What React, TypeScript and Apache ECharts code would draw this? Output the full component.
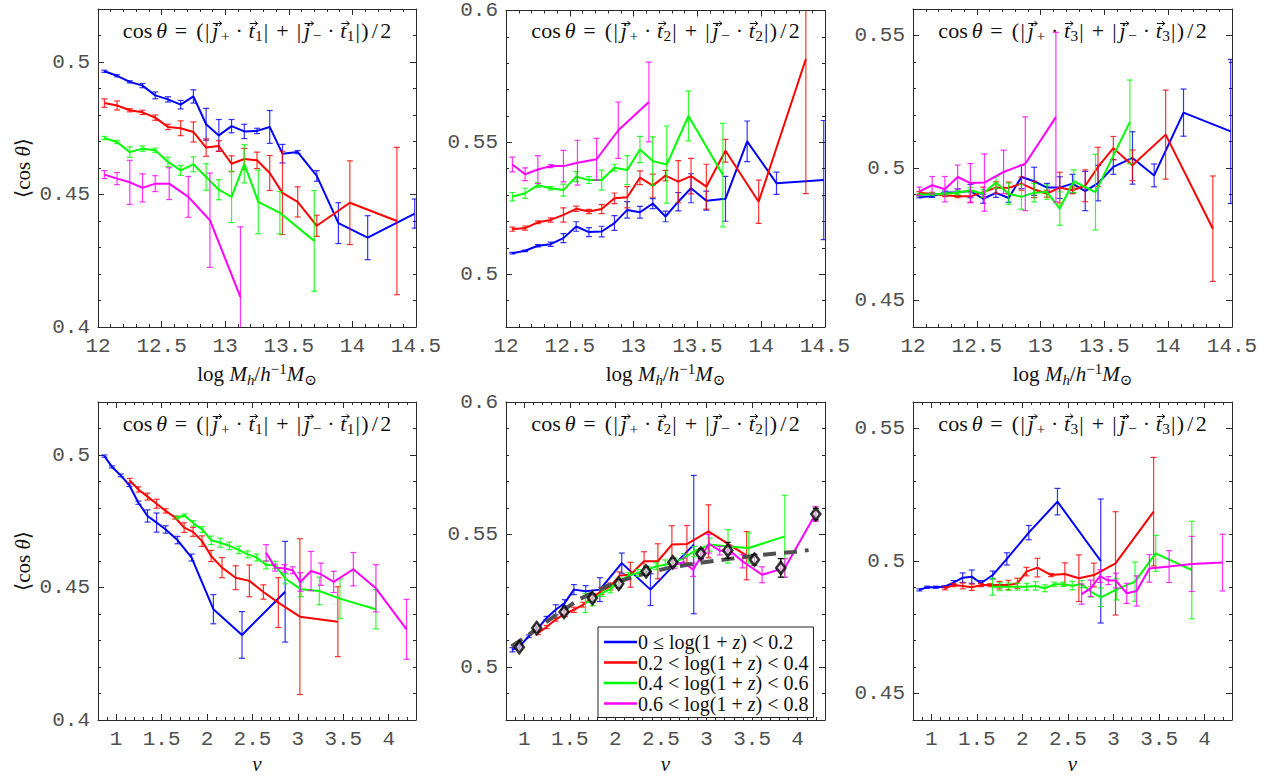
import { useEffect, useRef } from 'react';
import * as echarts from 'echarts';

// ---------- shared styling ----------
const SERIES_COLORS = ['#0000ff', '#ff0000', '#00ff00', '#ff00ff'];
const SERIF = "'Liberation Serif', 'DejaVu Serif', serif";
const MONO = "'Liberation Mono', 'DejaVu Sans Mono', monospace";
const AXIS_COLOR = '#2a2a2a';
const LABEL_COLOR = '#505050';
const INK = '#111111';

// ---------- redshift slices (legend) ----------
const Z_EDGES = [0, 0.2, 0.4, 0.6, 0.8];
const Z_LABELS = Z_EDGES.slice(0, 4).map(
  (lo, i) => `${lo} ${i === 0 ? '≤' : '<'} log(1 + z) < ${Z_EDGES[i + 1]}`
);

// ---------- tick labels ----------
const MASS_TICKS = [12, 12.5, 13, 13.5, 14, 14.5];
const NU_TICKS = [1, 1.5, 2, 2.5, 3, 3.5, 4];
const Y_TICKS_T1 = [0.4, 0.45, 0.5];
const Y_TICKS_T2 = [0.5, 0.55, 0.6];
const Y_TICKS_T3 = [0.45, 0.5, 0.55];

// ---------- halo-mass bins, log M_h, per redshift slice ----------
const massBlue = [12.05, 12.15, 12.25, 12.35, 12.45, 12.55, 12.65, 12.75, 12.85, 12.95, 13.05, 13.15, 13.25, 13.35, 13.45, 13.57, 13.72, 13.89, 14.12, 14.49];
const massRed = [12.05, 12.15, 12.25, 12.35, 12.45, 12.55, 12.65, 12.75, 12.85, 12.95, 13.05, 13.15, 13.25, 13.35, 13.45, 13.57, 13.72, 13.98, 14.35];
const massGreen = [12.05, 12.15, 12.25, 12.35, 12.45, 12.55, 12.65, 12.75, 12.85, 12.95, 13.05, 13.15, 13.26, 13.43, 13.7];
const massMagenta = [12.05, 12.15, 12.25, 12.35, 12.45, 12.56, 12.71, 12.88, 13.12];

// ---------- peak-height bins, nu, per redshift slice ----------
const nuBlue = [0.87, 0.955, 1.05, 1.145, 1.245, 1.345, 1.445, 1.545, 1.675, 1.83, 2.07, 2.385, 2.86];
const nuRed = [1.15, 1.245, 1.345, 1.445, 1.545, 1.648, 1.748, 1.846, 1.945, 2.045, 2.165, 2.315, 2.466, 2.62, 2.785, 3.022, 3.44];
const nuGreen = [1.672, 1.753, 1.852, 1.947, 2.046, 2.145, 2.247, 2.35, 2.448, 2.547, 2.65, 2.749, 2.863, 3.035, 3.236, 3.463, 3.859];
const nuMagenta = [2.65, 2.749, 2.852, 2.943, 3.027, 3.145, 3.254, 3.394, 3.61, 3.859, 4.196];

// ---------- <cos theta> vs mass, t1 ----------
const t1MassBlue = [0.4965, 0.4948, 0.4925, 0.4911, 0.4874, 0.4859, 0.4839, 0.487, 0.4765, 0.4723, 0.4758, 0.4738, 0.474, 0.4755, 0.4654, 0.466, 0.457, 0.4392, 0.4337, 0.4428];
const t1MassBlueErr = [0.0004, 0.0004, 0.0004, 0.0008, 0.0013, 0.001, 0.0016, 0.0025, 0.006, 0.006, 0.0025, 0.0027, 0.001, 0.0062, 0.0035, 0.0006, 0.002, 0.0077, 0.0083, 0.0055];
const t1MassRed = [0.4845, 0.4836, 0.4818, 0.481, 0.479, 0.4755, 0.475, 0.4736, 0.4677, 0.4683, 0.4616, 0.4634, 0.4629, 0.4581, 0.4506, 0.4472, 0.4382, 0.4469, 0.44];
const t1MassRedErr = [0.0016, 0.0017, 0.0006, 0.0008, 0.001, 0.001, 0.0028, 0.0038, 0.0033, 0.002, 0.003, 0.004, 0.0031, 0.0066, 0.0157, 0.0057, 0.004, 0.0158, 0.0278];
const t1MassGreen = [0.4713, 0.4698, 0.466, 0.4673, 0.4667, 0.4623, 0.4591, 0.4614, 0.4566, 0.4518, 0.4491, 0.4616, 0.4472, 0.4431, 0.4325];
const t1MassGreenErr = [0.0006, 0.0006, 0.002, 0.001, 0.0008, 0.0018, 0.0019, 0.0028, 0.005, 0.0038, 0.0097, 0.0072, 0.012, 0.008, 0.019];
const t1MassMagenta = [0.4575, 0.456, 0.4546, 0.4525, 0.4541, 0.4541, 0.4491, 0.4403, 0.4113];
const t1MassMagentaErr = [0.0015, 0.0023, 0.0083, 0.0053, 0.003, 0.006, 0.0077, 0.0178, 0.0265];

// ---------- <cos theta> vs mass, t2 ----------
const t2MassBlue = [0.508, 0.5089, 0.5108, 0.5114, 0.5137, 0.5181, 0.516, 0.5162, 0.5194, 0.5244, 0.5235, 0.5268, 0.5219, 0.5275, 0.5326, 0.5279, 0.5286, 0.5504, 0.5345, 0.5357];
const t2MassBlueErr = [0.0003, 0.0003, 0.0004, 0.0008, 0.0017, 0.0018, 0.0017, 0.002, 0.0028, 0.0031, 0.0022, 0.0019, 0.002, 0.0035, 0.0055, 0.0036, 0.0085, 0.0077, 0.0042, 0.0226];
const t2MassRed = [0.5171, 0.5175, 0.5197, 0.5206, 0.5225, 0.5248, 0.5238, 0.5247, 0.5288, 0.5292, 0.5366, 0.5336, 0.5374, 0.5351, 0.5372, 0.5332, 0.5468, 0.5275, 0.5816];
const t2MassRedErr = [0.0008, 0.0008, 0.0005, 0.0008, 0.0027, 0.001, 0.0008, 0.0017, 0.002, 0.004, 0.0026, 0.0044, 0.002, 0.008, 0.0067, 0.0085, 0.0043, 0.0082, 0.051];
const t2MassGreen = [0.5294, 0.5307, 0.5338, 0.5326, 0.5319, 0.537, 0.5357, 0.5357, 0.5404, 0.5395, 0.5473, 0.5429, 0.5416, 0.56, 0.5376];
const t2MassGreenErr = [0.0016, 0.0019, 0.0009, 0.0006, 0.0023, 0.0019, 0.0013, 0.0038, 0.0013, 0.0055, 0.005, 0.0092, 0.0146, 0.0094, 0.0196];
const t2MassMagenta = [0.5416, 0.5379, 0.5397, 0.541, 0.541, 0.5423, 0.5436, 0.5546, 0.5653];
const t2MassMagentaErr = [0.0028, 0.0024, 0.0053, 0.0006, 0.006, 0.0085, 0.0079, 0.0107, 0.0151];

// ---------- <cos theta> vs mass, t3 ----------
const t3MassBlue = [0.4891, 0.4893, 0.4908, 0.4908, 0.4913, 0.4884, 0.4906, 0.4887, 0.4966, 0.495, 0.4926, 0.4926, 0.4941, 0.4913, 0.4943, 0.5004, 0.5038, 0.4972, 0.5209, 0.5138];
const t3MassBlueErr = [0.0004, 0.0004, 0.0005, 0.0013, 0.0025, 0.0017, 0.0017, 0.0016, 0.0044, 0.0053, 0.0016, 0.0041, 0.0035, 0.0074, 0.0067, 0.0028, 0.0099, 0.0043, 0.0089, 0.0272];
const t3MassRed = [0.4906, 0.4903, 0.4897, 0.4893, 0.4893, 0.4909, 0.4926, 0.4925, 0.4941, 0.4919, 0.4903, 0.4926, 0.4916, 0.4933, 0.5004, 0.5075, 0.501, 0.5126, 0.4771];
const t3MassRedErr = [0.0005, 0.0005, 0.0005, 0.0005, 0.0022, 0.0019, 0.0022, 0.0022, 0.0025, 0.0031, 0.0013, 0.0058, 0.0013, 0.006, 0.0074, 0.0044, 0.0058, 0.0168, 0.0199];
const t3MassGreen = [0.4899, 0.4901, 0.4903, 0.4907, 0.4916, 0.4903, 0.4945, 0.4903, 0.4891, 0.4907, 0.4909, 0.4847, 0.495, 0.4909, 0.5174];
const t3MassGreenErr = [0.0005, 0.0005, 0.0005, 0.0008, 0.001, 0.0015, 0.0022, 0.004, 0.0047, 0.0035, 0.0027, 0.0063, 0.0043, 0.0143, 0.0158];
const t3MassMagenta = [0.4912, 0.4935, 0.492, 0.4966, 0.4943, 0.4945, 0.4985, 0.5016, 0.5192];
const t3MassMagentaErr = [0.0016, 0.0033, 0.0048, 0.0045, 0.0074, 0.0108, 0.0082, 0.0177, 0.032];

// ---------- <cos theta> vs nu, t1 ----------
const t1NuBlue = [0.4996, 0.4955, 0.4923, 0.4886, 0.482, 0.477, 0.4745, 0.4719, 0.4679, 0.4613, 0.4418, 0.4321, 0.4484];
const t1NuBlueErr = [0.0004, 0.0004, 0.0005, 0.0005, 0.0006, 0.0023, 0.0036, 0.0014, 0.0014, 0.0013, 0.0055, 0.0088, 0.019];
const t1NuRed = [0.4904, 0.487, 0.4843, 0.4816, 0.4789, 0.4764, 0.4726, 0.471, 0.4675, 0.4619, 0.4575, 0.4537, 0.4525, 0.4483, 0.4443, 0.439, 0.4371];
const t1NuRedErr = [0.0008, 0.001, 0.0013, 0.0017, 0.0008, 0.0006, 0.0018, 0.0017, 0.002, 0.0021, 0.0038, 0.0045, 0.006, 0.0027, 0.0094, 0.0294, 0.0132];
const t1NuGreen = [0.4764, 0.4772, 0.4742, 0.4719, 0.4678, 0.4669, 0.4657, 0.4642, 0.4625, 0.4613, 0.4585, 0.4585, 0.4533, 0.4493, 0.4487, 0.4458, 0.4418];
const t1NuGreenErr = [0.0005, 0.0005, 0.001, 0.0011, 0.0016, 0.0017, 0.0014, 0.0014, 0.0013, 0.0013, 0.0015, 0.0014, 0.0019, 0.0028, 0.0052, 0.0075, 0.0074];
const t1NuMagenta = [0.4631, 0.4575, 0.4572, 0.4565, 0.4521, 0.4562, 0.455, 0.4521, 0.4569, 0.4497, 0.4342];
const t1NuMagentaErr = [0.0031, 0.0013, 0.0014, 0.0013, 0.0035, 0.0074, 0.0042, 0.004, 0.0063, 0.0089, 0.0113];

// ---------- <cos theta> vs nu, t2 ----------
const t2NuBlue = [0.5065, 0.508, 0.5116, 0.5143, 0.5185, 0.5216, 0.5242, 0.5292, 0.5286, 0.5292, 0.5392, 0.5292, 0.5462];
const t2NuBlueErr = [0.0008, 0.0005, 0.0005, 0.0005, 0.0006, 0.0019, 0.0012, 0.0019, 0.0021, 0.0045, 0.0038, 0.006, 0.0261];
const t2NuRed = [0.5128, 0.5151, 0.5179, 0.5201, 0.5216, 0.5235, 0.5263, 0.5286, 0.5304, 0.5345, 0.5348, 0.5399, 0.5399, 0.5462, 0.5464, 0.5512, 0.542];
const t2NuRedErr = [0.0006, 0.0006, 0.0006, 0.0011, 0.001, 0.0009, 0.0012, 0.0013, 0.0013, 0.0014, 0.0047, 0.0036, 0.0066, 0.0071, 0.007, 0.01, 0.0091];
const t2NuGreen = [0.5242, 0.5254, 0.5279, 0.5294, 0.5323, 0.5345, 0.5355, 0.5367, 0.538, 0.5386, 0.5395, 0.5411, 0.5436, 0.5462, 0.5455, 0.5449, 0.5493];
const t2NuGreenErr = [0.0036, 0.0023, 0.0013, 0.0014, 0.0013, 0.0011, 0.0013, 0.0013, 0.0013, 0.0018, 0.0016, 0.0016, 0.0019, 0.0025, 0.0063, 0.0057, 0.0155];
const t2NuMagenta = [0.5386, 0.5395, 0.5367, 0.5418, 0.5465, 0.5439, 0.544, 0.5399, 0.5348, 0.5374, 0.5577];
const t2NuMagentaErr = [0.0013, 0.0016, 0.0025, 0.0013, 0.0035, 0.0016, 0.0016, 0.0025, 0.003, 0.0035, 0.0028];

// all redshifts combined (black diamonds) and the fitted relation (dashed)
const nuAll = [0.946, 1.137, 1.437, 1.748, 2.037, 2.337, 2.63, 2.937, 3.233, 3.526, 3.815, 4.199];
const t2NuAll = [0.5075, 0.5147, 0.5208, 0.526, 0.5314, 0.5361, 0.5395, 0.5428, 0.544, 0.5405, 0.5374, 0.5577];
const t2NuAllErr = [0.0008, 0.0008, 0.001, 0.0015, 0.0015, 0.0015, 0.0015, 0.0018, 0.003, 0.002, 0.0035, 0.0022];
const nuFit = [0.86, 1.0, 1.25, 1.6, 1.9, 2.15, 2.35, 2.6, 2.9, 3.25, 3.6, 3.95, 4.12];
const t2NuFit = [0.5078, 0.511, 0.5172, 0.5255, 0.5305, 0.5335, 0.5355, 0.5375, 0.5392, 0.5408, 0.5423, 0.5434, 0.5441];

// ---------- <cos theta> vs nu, t3 ----------
const t3NuBlue = [0.4891, 0.4901, 0.4901, 0.4903, 0.4918, 0.4937, 0.4941, 0.4916, 0.4947, 0.5008, 0.5107, 0.5224, 0.5];
const t3NuBlueErr = [0.0004, 0.0004, 0.0004, 0.0004, 0.0008, 0.0018, 0.0025, 0.001, 0.0015, 0.0023, 0.0027, 0.005, 0.0234];
const t3NuRed = [0.4897, 0.4909, 0.4906, 0.4901, 0.4909, 0.4909, 0.4909, 0.4909, 0.4916, 0.496, 0.4975, 0.4947, 0.4951, 0.4935, 0.4947, 0.4991, 0.5186];
const t3NuRedErr = [0.0006, 0.0006, 0.0011, 0.0012, 0.0006, 0.0006, 0.0014, 0.0018, 0.0019, 0.0016, 0.0035, 0.0006, 0.0042, 0.0088, 0.0045, 0.0195, 0.0205];
const t3NuGreen = [0.4903, 0.4903, 0.4903, 0.4903, 0.4903, 0.4906, 0.4897, 0.4912, 0.4912, 0.4907, 0.4913, 0.4884, 0.4863, 0.4893, 0.4922, 0.5029, 0.4966];
const t3NuGreenErr = [0.0032, 0.0015, 0.0014, 0.0013, 0.0013, 0.0016, 0.0013, 0.0008, 0.0008, 0.0016, 0.0013, 0.002, 0.0035, 0.004, 0.0074, 0.0068, 0.0184];
const t3NuMagenta = [0.4875, 0.4897, 0.4943, 0.4926, 0.4926, 0.4878, 0.4887, 0.4972, 0.4979, 0.4989, 0.4994];
const t3NuMagentaErr = [0.0038, 0.0031, 0.0024, 0.0015, 0.0028, 0.0038, 0.0057, 0.0052, 0.006, 0.0104, 0.0107];

// ---------- rich-text helpers for the axis names ----------
function mathRich(size: number) {
  const base = { fontFamily: SERIF, fontSize: size, lineHeight: 26, color: INK, verticalAlign: 'middle' };
  const small = Math.round(size * 0.7);
  return {
    r: { ...base },
    i: { ...base, fontStyle: 'italic' },
    sub: { fontFamily: SERIF, fontSize: small, color: INK, verticalAlign: 'bottom' },
    isub: { fontFamily: SERIF, fontSize: small, fontStyle: 'italic', color: INK, verticalAlign: 'bottom' },
    sup: { fontFamily: SERIF, fontSize: small, color: INK, verticalAlign: 'top' },
  };
}
const MASS_NAME = '{r|log }{i|M}{isub|h}{r|/}{i|h}{sup|−1}{i|M}{sub|⊙}';
const NU_NAME = '{i|ν}';
const COS_NAME = '{r|⟨cos }{i|θ}{r|⟩}';

// ---------- panel titles: glyphs laid out on TeX-like advance widths (em) ----------
type MTok = { s?: string; em: number; it?: boolean; sub?: boolean; vec?: boolean };
const THICK = 5 / 18;
const MED = 4 / 18;
const THIN = 1 / 6;
function titleTokens(k: number): MTok[] {
  const idx = String(k);
  return [
    { s: 'cos', em: 1.338 }, { em: THIN }, { s: 'θ', em: 0.469, it: true },
    { em: THICK }, { s: '=', em: 0.778 }, { em: THICK },
    { s: '(', em: 0.389 }, { s: '|', em: 0.278 },
    { s: 'j', em: 0.412, it: true, vec: true }, { s: '+', em: 0.778, sub: true },
    { em: MED }, { s: '·', em: 0.278 }, { em: MED },
    { s: 't', em: 0.361, it: true, vec: true }, { s: idx, em: 0.5, sub: true },
    { s: '|', em: 0.278 }, { em: MED }, { s: '+', em: 0.778 }, { em: MED }, { s: '|', em: 0.278 },
    { s: 'j', em: 0.412, it: true, vec: true }, { s: '−', em: 0.778, sub: true },
    { em: MED }, { s: '·', em: 0.278 }, { em: MED },
    { s: 't', em: 0.361, it: true, vec: true }, { s: idx, em: 0.5, sub: true },
    { s: '|', em: 0.278 }, { s: ')', em: 0.389 }, { s: '/', em: 0.5 }, { s: '2', em: 0.5 },
  ];
}

function mathTitle(k: number, cx: number, cy: number, size: number) {
  const subSize = size * 0.7;
  const toks = titleTokens(k);
  const widths = toks.map((t) => t.em * (t.sub ? subSize : size));
  const total = widths.reduce((a, b) => a + b, 0);
  const children: any[] = [];
  let x = 0;
  toks.forEach((t, i) => {
    const w = widths[i];
    if (t.s) {
      const fs = t.sub ? subSize : size;
      children.push({
        type: 'text',
        x: x + w / 2 + (t.it ? 0.5 : 0),
        y: t.sub ? 5.5 : 0,
        style: {
          text: t.s, fontFamily: SERIF, fontSize: fs, fontStyle: t.it ? 'italic' : 'normal',
          fill: INK, align: 'center', verticalAlign: 'middle',
          textAlign: 'center', textVerticalAlign: 'middle',
        },
      });
      if (t.vec) {
        const ay = -6.5;
        const x0 = x + 2.5;
        const x1 = x + w + 2.5;
        const line = { stroke: INK, lineWidth: 1, fill: null };
        children.push({ type: 'polyline', shape: { points: [[x0, ay], [x1, ay]] }, style: line });
        children.push({ type: 'polyline', shape: { points: [[x1 - 2.8, ay - 2.3], [x1, ay], [x1 - 2.8, ay + 2.3]] }, style: line });
      }
    }
    x += w;
  });
  return { type: 'group', x: cx - total / 2, y: cy, z: 20, silent: true, children };
}

// ---------- panel layout ----------
const GRIDS = [
  { left: 98, top: 9, width: 318, height: 318 },
  { left: 506, top: 9, width: 319, height: 318 },
  { left: 913, top: 9, width: 319, height: 318 },
  { left: 98, top: 402, width: 318, height: 318 },
  { left: 506, top: 402, width: 319, height: 318 },
  { left: 913, top: 402, width: 319, height: 318 },
];

type Curve = { x: number[]; y: number[]; e: number[] };
type Panel = {
  xMin: number; xMax: number; xStep: number; xTicks: number[]; xName: string; xGap: number;
  yMin: number; yMax: number; yTicks: number[]; yName?: string;
  t: number; curves: Curve[];
};

const PANELS: Panel[] = [
  {
    xMin: 12, xMax: 14.5, xStep: 0.1, xTicks: MASS_TICKS, xName: MASS_NAME, xGap: 34,
    yMin: 0.4, yMax: 0.52, yTicks: Y_TICKS_T1, yName: COS_NAME, t: 1,
    curves: [
      { x: massBlue, y: t1MassBlue, e: t1MassBlueErr },
      { x: massRed, y: t1MassRed, e: t1MassRedErr },
      { x: massGreen, y: t1MassGreen, e: t1MassGreenErr },
      { x: massMagenta, y: t1MassMagenta, e: t1MassMagentaErr },
    ],
  },
  {
    xMin: 12, xMax: 14.5, xStep: 0.1, xTicks: MASS_TICKS, xName: MASS_NAME, xGap: 34,
    yMin: 0.48, yMax: 0.6, yTicks: Y_TICKS_T2, t: 2,
    curves: [
      { x: massBlue, y: t2MassBlue, e: t2MassBlueErr },
      { x: massRed, y: t2MassRed, e: t2MassRedErr },
      { x: massGreen, y: t2MassGreen, e: t2MassGreenErr },
      { x: massMagenta, y: t2MassMagenta, e: t2MassMagentaErr },
    ],
  },
  {
    xMin: 12, xMax: 14.5, xStep: 0.1, xTicks: MASS_TICKS, xName: MASS_NAME, xGap: 34,
    yMin: 0.44, yMax: 0.56, yTicks: Y_TICKS_T3, t: 3,
    curves: [
      { x: massBlue, y: t3MassBlue, e: t3MassBlueErr },
      { x: massRed, y: t3MassRed, e: t3MassRedErr },
      { x: massGreen, y: t3MassGreen, e: t3MassGreenErr },
      { x: massMagenta, y: t3MassMagenta, e: t3MassMagentaErr },
    ],
  },
  {
    xMin: 0.8, xMax: 4.3, xStep: 0.1, xTicks: NU_TICKS, xName: NU_NAME, xGap: 31,
    yMin: 0.4, yMax: 0.52, yTicks: Y_TICKS_T1, yName: COS_NAME, t: 1,
    curves: [
      { x: nuBlue, y: t1NuBlue, e: t1NuBlueErr },
      { x: nuRed, y: t1NuRed, e: t1NuRedErr },
      { x: nuGreen, y: t1NuGreen, e: t1NuGreenErr },
      { x: nuMagenta, y: t1NuMagenta, e: t1NuMagentaErr },
    ],
  },
  {
    xMin: 0.8, xMax: 4.3, xStep: 0.1, xTicks: NU_TICKS, xName: NU_NAME, xGap: 31,
    yMin: 0.48, yMax: 0.6, yTicks: Y_TICKS_T2, t: 2,
    curves: [
      { x: nuBlue, y: t2NuBlue, e: t2NuBlueErr },
      { x: nuRed, y: t2NuRed, e: t2NuRedErr },
      { x: nuGreen, y: t2NuGreen, e: t2NuGreenErr },
      { x: nuMagenta, y: t2NuMagenta, e: t2NuMagentaErr },
    ],
  },
  {
    xMin: 0.8, xMax: 4.3, xStep: 0.1, xTicks: NU_TICKS, xName: NU_NAME, xGap: 31,
    yMin: 0.44, yMax: 0.56, yTicks: Y_TICKS_T3, t: 3,
    curves: [
      { x: nuBlue, y: t3NuBlue, e: t3NuBlueErr },
      { x: nuRed, y: t3NuRed, e: t3NuRedErr },
      { x: nuGreen, y: t3NuGreen, e: t3NuGreenErr },
      { x: nuMagenta, y: t3NuMagenta, e: t3NuMagentaErr },
    ],
  },
];

const fmt = (v: number) => String(Number(v.toFixed(2)));

function axisSet(gi: number, dim: 'x' | 'y', p: Panel) {
  const isX = dim === 'x';
  const min = isX ? p.xMin : p.yMin;
  const max = isX ? p.xMax : p.yMax;
  const step = isX ? p.xStep : 0.01;
  const ticks = isX ? p.xTicks : p.yTicks;
  const sides = isX ? ['bottom', 'top'] : ['left', 'right'];
  const lineStyle = { color: AXIS_COLOR, width: 1 };
  const out: any[] = [];
  sides.forEach((position, s) => {
    const labelled = s === 0;
    // fine ticks and frame line
    const minor: any = {
      type: 'value', gridIndex: gi, position, min, max, interval: step,
      axisLine: { show: true, onZero: false, lineStyle },
      axisTick: { show: true, inside: true, length: 3, lineStyle },
      splitLine: { show: false },
      axisLabel: labelled
        ? {
            show: true, customValues: ticks, margin: isX ? 9 : 8,
            fontFamily: MONO, fontSize: 21, color: LABEL_COLOR, formatter: fmt,
          }
        : { show: false },
    };
    if (labelled && isX) {
      Object.assign(minor, {
        name: p.xName, nameLocation: 'middle', nameGap: p.xGap,
        nameTextStyle: { fontFamily: SERIF, fontSize: 21, color: INK, rich: mathRich(21) },
      });
    }
    if (labelled && !isX && p.yName) {
      Object.assign(minor, {
        name: p.yName, nameLocation: 'middle', nameGap: 62, nameRotate: 90,
        nameTextStyle: { fontFamily: SERIF, fontSize: 21, color: INK, rich: mathRich(21) },
      });
    }
    out.push(minor);
  });
  sides.forEach((position) => {
    // longer ticks at the labelled values
    out.push({
      type: 'value', gridIndex: gi, position, min, max,
      axisLine: { show: false, onZero: false },
      axisTick: { show: true, inside: true, length: 6, customValues: ticks, lineStyle },
      splitLine: { show: false },
      axisLabel: { show: false },
    });
  });
  return out;
}

function errorBars(gi: number, c: Curve, color: string, z: number, opacity = 0.8) {
  return {
    type: 'custom',
    xAxisIndex: gi * 4,
    yAxisIndex: gi * 4,
    clip: true,
    silent: true,
    z,
    data: c.x.map((xv, i) => [xv, c.y[i] - c.e[i], c.y[i] + c.e[i]]),
    encode: { x: 0, y: [1, 2] },
    renderItem: (_params: any, api: any) => {
      const lo = api.coord([api.value(0), api.value(1)]);
      const hi = api.coord([api.value(0), api.value(2)]);
      const w = 3;
      const style = { stroke: color, lineWidth: 1.2, opacity };
      return {
        type: 'group',
        children: [
          { type: 'line', shape: { x1: lo[0], y1: lo[1], x2: hi[0], y2: hi[1] }, style },
          { type: 'line', shape: { x1: lo[0] - w, y1: lo[1], x2: lo[0] + w, y2: lo[1] }, style },
          { type: 'line', shape: { x1: hi[0] - w, y1: hi[1], x2: hi[0] + w, y2: hi[1] }, style },
        ],
      };
    },
  };
}

function buildOption() {
  const xAxis: any[] = [];
  const yAxis: any[] = [];
  const series: any[] = [];
  const graphic: any[] = [];

  PANELS.forEach((p, gi) => {
    xAxis.push(...axisSet(gi, 'x', p));
    yAxis.push(...axisSet(gi, 'y', p));
    p.curves.forEach((c, k) => {
      const color = SERIES_COLORS[k];
      series.push(errorBars(gi, c, color, 2 + k * 2));
      series.push({
        type: 'line',
        name: Z_LABELS[k],
        xAxisIndex: gi * 4,
        yAxisIndex: gi * 4,
        data: c.x.map((xv, i) => [xv, c.y[i]]),
        symbol: 'none',
        color,
        lineStyle: { color, width: 2 },
        z: 3 + k * 2,
        silent: true,
      });
    });
    const g = GRIDS[gi];
    graphic.push(mathTitle(p.t, g.left + g.width / 2, g.top + 21, 22));
  });

  // combined sample and fitted trend in the t2 vs nu panel
  const gi = 4;
  series.push({
    type: 'line',
    xAxisIndex: gi * 4,
    yAxisIndex: gi * 4,
    data: nuFit.map((x, i) => [x, t2NuFit[i]]),
    symbol: 'none',
    lineStyle: { color: '#505050', width: 4, type: [13, 8] },
    z: 12,
    silent: true,
  });
  series.push(errorBars(gi, { x: nuAll, y: t2NuAll, e: t2NuAllErr }, '#000000', 13, 1));
  series.push({
    type: 'scatter',
    xAxisIndex: gi * 4,
    yAxisIndex: gi * 4,
    data: nuAll.map((x, i) => [x, t2NuAll[i]]),
    symbol: 'diamond',
    symbolSize: [9, 12],
    itemStyle: { color: 'rgba(255,235,255,0.9)', borderColor: '#000', borderWidth: 2.6 },
    z: 14,
    silent: true,
  });

  const legendRich = {
    r: { fontFamily: SERIF, fontSize: 20, lineHeight: 20, color: INK },
    i: { fontFamily: SERIF, fontSize: 20, lineHeight: 20, fontStyle: 'italic', color: INK },
  };

  return {
    animation: false,
    backgroundColor: '#ffffff',
    grid: GRIDS.map((g) => ({ ...g, containLabel: false })),
    xAxis,
    yAxis,
    series,
    graphic,
    legend: {
      data: Z_LABELS,
      orient: 'vertical',
      left: 598,
      top: 627,
      icon: 'rect',
      itemWidth: 33,
      itemHeight: 2.5,
      itemGap: 0.5,
      padding: [5, 5, 4, 6],
      borderColor: '#222',
      borderWidth: 1,
      backgroundColor: '#ffffff',
      selectedMode: false,
      z: 30,
      textStyle: { fontFamily: SERIF, fontSize: 20, lineHeight: 20, color: INK, rich: legendRich, padding: [0, 0, 0, -4] },
      formatter: (name: string) => {
        const [a, b] = name.split('z');
        return `{r|${a}}{i|z}{r|${b}}`;
      },
    },
  };
}

export default function App() {
  const ref = useRef<HTMLDivElement>(null);
  useEffect(() => {
    if (!ref.current) return;
    const chart = echarts.init(ref.current, null, { renderer: 'svg' });
    chart.setOption(buildOption() as any);
    return () => chart.dispose();
  }, []);
  return (
    <div
      ref={ref}
      style={{ position: 'absolute', left: 0, top: 0, width: 1275, height: 782, background: '#fff' }}
    />
  );
}
